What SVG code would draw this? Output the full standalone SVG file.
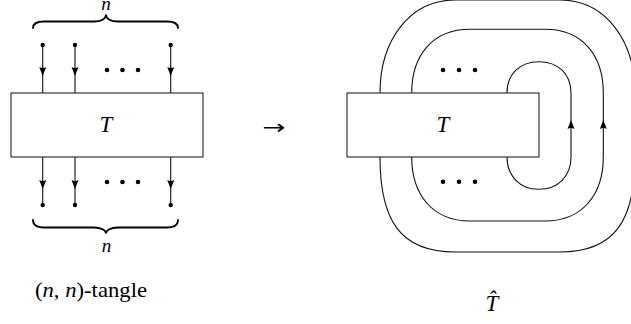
<svg xmlns="http://www.w3.org/2000/svg" width="631" height="324" viewBox="0 0 631 324">
<style>
.ln{fill:none;stroke:#111;stroke-width:1.1}
.box{fill:#fff;stroke:#222;stroke-width:1.1}
.br{fill:none;stroke:#000;stroke-width:1.8;stroke-linecap:round}
.tx{font-family:'Liberation Serif','Times New Roman','DejaVu Serif',serif;fill:#000}
.it{font-style:italic}
</style>
<defs>
<path id="ahd" d="M0,0 L-3.5,-9 Q0,-7 3.5,-9 Z" fill="#000"/>
<circle id="ep" r="2.2" fill="#000"/>
<circle id="ed" r="2.3" fill="#000"/>
</defs>

<g id="connectors">
  <path class="ln" d="M42.7,45 V93 M75,45 V93 M170.7,45 V93"/>
  <path class="ln" d="M42.7,157 V205 M75,157 V205 M170.7,157 V205"/>
  <use href="#ahd" x="42.7" y="76"/>
  <use href="#ahd" x="75" y="76"/>
  <use href="#ahd" x="170.7" y="76"/>
  <use href="#ahd" x="42.7" y="189"/>
  <use href="#ahd" x="75" y="189"/>
  <use href="#ahd" x="170.7" y="189"/>
  <use href="#ep" x="42.7" y="45"/>
  <use href="#ep" x="75" y="45"/>
  <use href="#ep" x="170.7" y="45"/>
  <use href="#ep" x="42.7" y="205"/>
  <use href="#ep" x="75" y="205"/>
  <use href="#ep" x="170.7" y="205"/>
  <path class="ln" d="M380,93 C380,40 410,0 455,0 L560,0 C605,0 635,40 635,93 L635,157 C635,220 615,252 560,252 L455,252 C400,252 380,220 380,157 Z"/>
  <path class="ln" d="M411.7,93 C411.7,55 433,29.3 470,29.3 L545,29.3 C582,29.3 603.3,55 603.3,93 L603.3,157 C603.3,195 582,221 545,221 L470,221 C433,221 411.7,195 411.7,157 Z"/>
  <path class="ln" d="M507,93 C507,74 520,61.7 539,61.7 C558,61.7 571,74 571,93 L571,157 C571,176 558,189.3 539,189.3 C520,189.3 507,176 507,157 Z"/>
  <use href="#ahd" transform="translate(571,120) rotate(180)"/>
  <use href="#ahd" transform="translate(603.3,120) rotate(180)"/>
</g>

<g id="brace-top">
  <path class="br" d="M33,28 C33,23 37,21.5 44,21.5 L94,21.5 C101,21.5 106,19 106,14.5 C106,19 111,21.5 118,21.5 L167,21.5 C174,21.5 178,23 178,28"/>
  <text class="tx it" x="106" y="9.5" font-size="19" text-anchor="middle">n</text>
</g>
<g id="brace-bottom">
  <path class="br" d="M33,220 C33,225.5 37,227.5 44,227.5 L94,227.5 C101,227.5 106,230 106,233.5 C106,230 111,227.5 118,227.5 L167,227.5 C174,227.5 178,225.5 178,220"/>
  <text class="tx it" x="106.5" y="252" font-size="19" text-anchor="middle">n</text>
</g>

<g id="dots-left">
  <use href="#ed" x="107" y="70"/><use href="#ed" x="122.5" y="70"/><use href="#ed" x="138" y="70"/>
  <use href="#ed" x="107" y="182"/><use href="#ed" x="122.5" y="182"/><use href="#ed" x="138" y="182"/>
</g>
<g id="dots-right">
  <use href="#ed" x="443" y="70"/><use href="#ed" x="459" y="70"/><use href="#ed" x="475" y="70"/>
  <use href="#ed" x="443" y="181.7"/><use href="#ed" x="459" y="181.7"/><use href="#ed" x="475" y="181.7"/>
</g>

<g id="tangle-T">
  <rect class="box" x="11" y="93" width="192" height="64"/>
  <text class="tx it" x="106" y="132" font-size="23" text-anchor="middle">T</text>
</g>

<g id="arrow">
  <text x="274" y="134" font-family="'DejaVu Sans',sans-serif" font-size="20" text-anchor="middle" textLength="23" lengthAdjust="spacingAndGlyphs" fill="#000">→</text>
</g>

<g id="closure-T">
  <rect class="box" x="347" y="93" width="192" height="64"/>
  <text class="tx it" x="443" y="132" font-size="23" text-anchor="middle">T</text>
</g>

<g id="label-left">
  <text class="tx" x="35" y="297" font-size="21" textLength="112" lengthAdjust="spacingAndGlyphs">(<tspan class="it">n</tspan>, <tspan class="it">n</tspan>)-tangle</text>
</g>
<g id="label-right">
  <text class="tx it" x="492" y="311" font-size="23" text-anchor="middle">T̂</text>
</g>
</svg>
